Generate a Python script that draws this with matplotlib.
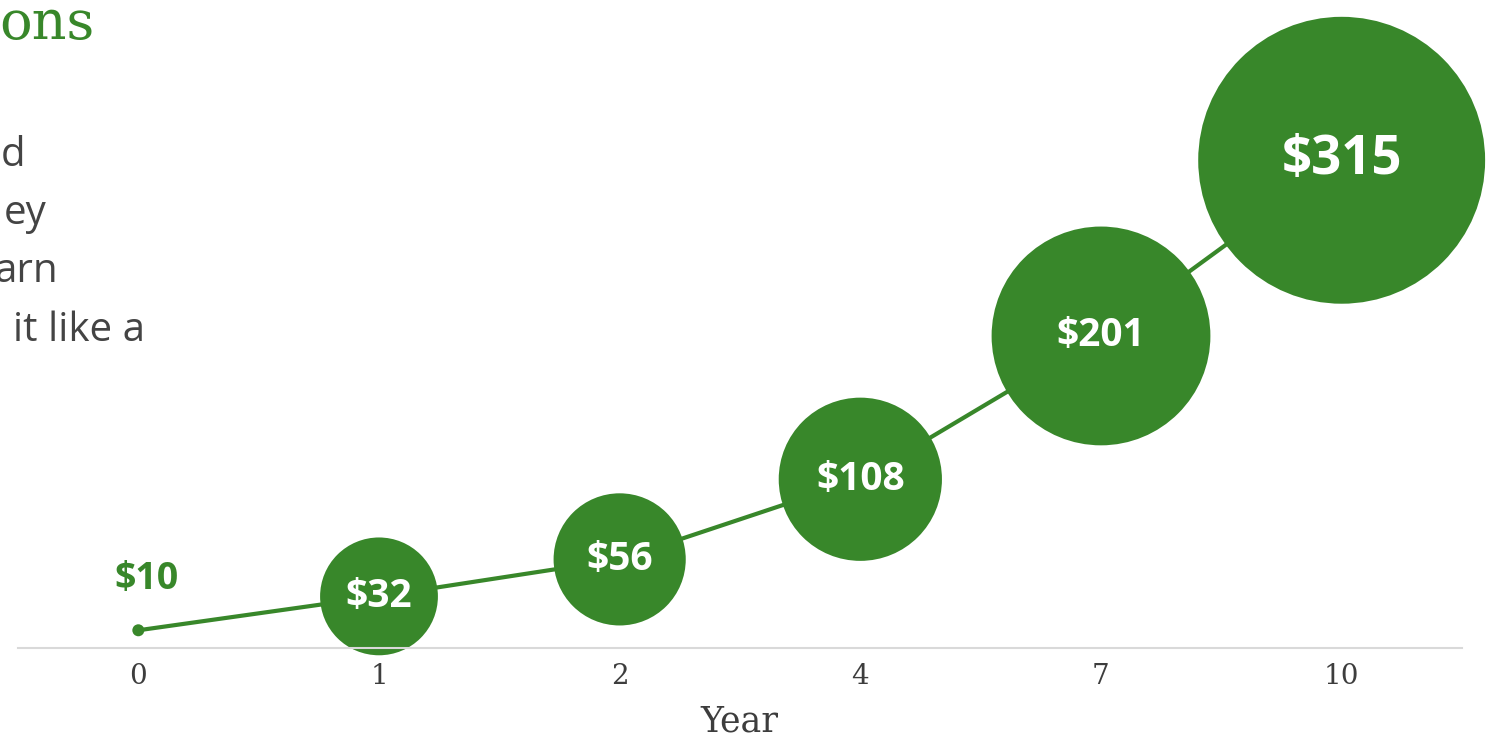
import matplotlib.pyplot as plt

# data
years = ['0', '1', '2', '4', '7', '10']
balance = [10, 32, 56, 108, 201, 315]

green = '#38872a'
grey_text = '#444444'

fig = plt.figure(figsize=(14.88, 7.37), dpi=100)
ax = fig.add_axes([18 / 1488, 89 / 737, 1444 / 1488, 648 / 737])

x = list(range(len(years)))

# connecting line
ax.plot(x, balance, color=green, lw=3, zorder=1, solid_capstyle='round')

# bubble diameter grows with the balance (pixels -> points)
diam = [(98.7 + 0.5975 * v) * 0.72 for v in balance]
sizes = [d ** 2 for d in diam]
sizes[0] = (12 * 0.72) ** 2  # starting amount is just a dot

ax.scatter(x, balance, s=sizes, color=green, edgecolors='none',
           zorder=2, clip_on=False)

for i, v in enumerate(balance):
    if i == 0:
        ax.annotate('$' + str(v), (x[i], v), xytext=(6, 37),
                    textcoords='offset points', ha='center', va='center',
                    color=green, fontsize=27, fontweight='bold',
                    family='Open Sans')
    else:
        fs = 38 if v == max(balance) else 28
        ax.text(x[i], v, '$' + str(v), ha='center', va='center',
                color='white', fontsize=fs, fontweight='bold',
                family='Open Sans', zorder=3)

ax.set_xlim(-0.5, 5.5)
ax.set_ylim(-1.5, 419)
ax.set_xticks(x)
ax.set_xticklabels(years, family='DejaVu Serif', fontsize=20, color='#3d3d3d')
ax.tick_params(axis='x', length=0, pad=11)
ax.set_yticks([])
for side in ['top', 'left', 'right']:
    ax.spines[side].set_visible(False)
ax.spines['bottom'].set_color('#d9d9d9')
ax.spines['bottom'].set_linewidth(1.5)
ax.patch.set_alpha(0)

fig.text(739 / 1488, 1 - 721 / 737, 'Year', ha='center', va='center',
         family='DejaVu Serif', fontsize=25, color='#3d3d3d')

# cropped heading and intro text on the left
fig.text(95 / 1488, 1 - 39 / 737, 'ons', ha='right', va='baseline',
         family='DejaVu Serif', fontsize=39, color=green)
intro = [('d', 25, 166), ('ey', 46, 224), ('arn', 58, 282), ('it like a', 145, 341)]
for txt, xr, yb in intro:
    fig.text(xr / 1488, 1 - yb / 737, txt, ha='right', va='baseline',
             family='Open Sans', fontsize=29, color=grey_text)

fig.savefig('out.png', dpi=100)
